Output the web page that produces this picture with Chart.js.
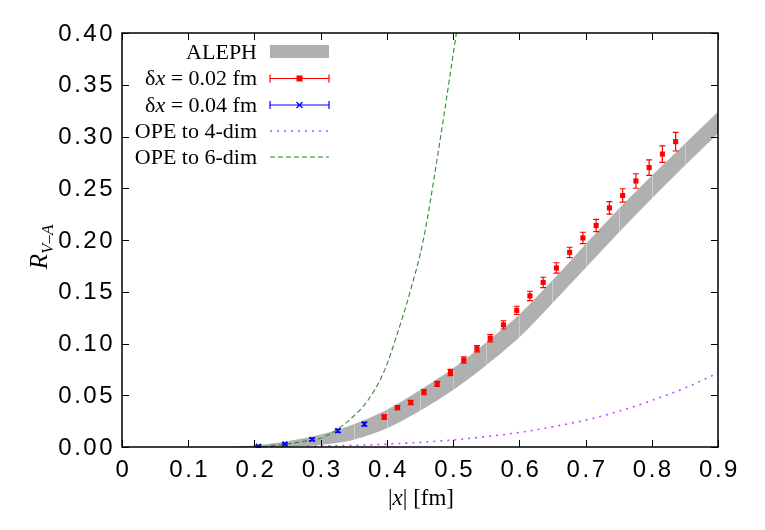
<!DOCTYPE html>
<html>
<head>
<meta charset="utf-8">
<script src="https://cdn.jsdelivr.net/npm/chart.js@4.4.1/dist/chart.umd.min.js"></script>
<style>
  html, body { margin: 0; padding: 0; background: #fff; }
  #wrap { width: 765px; height: 530px; }
</style>
</head>
<body>
<div id="wrap"><canvas id="rva" width="765" height="530"></canvas></div>
<script>
// axis ticks
const xTicks = [0, 0.1, 0.2, 0.3, 0.4, 0.5, 0.6, 0.7, 0.8, 0.9];
const xTickLabels = ['0', '0.1', '0.2', '0.3', '0.4', '0.5', '0.6', '0.7', '0.8', '0.9'];
const yTicks = [0, 0.05, 0.1, 0.15, 0.2, 0.25, 0.3, 0.35, 0.4];
const yTickLabels = ['0.00', '0.05', '0.10', '0.15', '0.20', '0.25', '0.30', '0.35', '0.40'];

// ALEPH band (upper / lower edge)
const alephX     = [0.15, 0.2, 0.25, 0.3, 0.35, 0.4, 0.45, 0.5, 0.55, 0.6, 0.65, 0.7, 0.75, 0.8, 0.85, 0.9];
const alephUpper = [0.0, 0.0015, 0.0055, 0.012, 0.022, 0.036, 0.055, 0.076, 0.101, 0.128, 0.161, 0.196, 0.230, 0.262, 0.293, 0.324];
const alephLower = [0.0, 0.0, 0.0003, 0.002, 0.007, 0.018, 0.035, 0.055, 0.079, 0.106, 0.139, 0.173, 0.207, 0.240, 0.272, 0.303];

// lattice, dx = 0.02 fm
const lat02X   = [0.396, 0.416, 0.436, 0.456, 0.476, 0.496, 0.516, 0.536, 0.556, 0.576, 0.596, 0.616,
                  0.636, 0.656, 0.676, 0.696, 0.716, 0.736, 0.756, 0.776, 0.796, 0.816, 0.836];
const lat02Y   = [0.029, 0.038, 0.043, 0.053, 0.061, 0.072, 0.084, 0.095, 0.105, 0.118, 0.132, 0.146,
                  0.159, 0.173, 0.188, 0.202, 0.214, 0.231, 0.243, 0.257, 0.270, 0.283, 0.295];
const lat02Err = [0.002, 0.002, 0.002, 0.0025, 0.0025, 0.003, 0.003, 0.003, 0.0035, 0.004, 0.004, 0.0045,
                  0.005, 0.005, 0.005, 0.0055, 0.006, 0.006, 0.0065, 0.007, 0.0075, 0.008, 0.009];

// lattice, dx = 0.04 fm
const lat04X   = [0.206, 0.246, 0.287, 0.326, 0.366];
const lat04Y   = [0.0006, 0.0028, 0.0073, 0.0157, 0.0221];
const lat04Err = [0.001, 0.001, 0.0012, 0.0015, 0.0018];

// OPE curves
const ope4X = [0.28, 0.3, 0.35, 0.4, 0.45, 0.5, 0.55, 0.6, 0.65, 0.7, 0.75, 0.8, 0.85, 0.9];
const ope4Y = [0.0007, 0.0009, 0.0016, 0.0028, 0.0045, 0.0068, 0.010, 0.014, 0.0195, 0.026, 0.0345, 0.045, 0.057, 0.0715];
const ope6X = [0.2, 0.22, 0.25, 0.275, 0.3, 0.325, 0.345, 0.37, 0.395, 0.415, 0.435, 0.455, 0.48, 0.505, 0.515];
const ope6Y = [0.0, 0.0008, 0.003, 0.0055, 0.0085, 0.017, 0.027, 0.044, 0.072, 0.108, 0.150, 0.200, 0.295, 0.400, 0.440];

const legendRows = [
  { parts: [['ALEPH', false]], kind: 'band' },
  { parts: [['δ', false], ['x', true], [' = 0.02 fm', false]], kind: 'red' },
  { parts: [['δ', false], ['x', true], [' = 0.04 fm', false]], kind: 'blue' },
  { parts: [['OPE to 4-dim', false]], kind: 'ope4' },
  { parts: [['OPE to 6-dim', false]], kind: 'ope6' }
];

const BAND = '#b0b0b0';
const RED = '#ff0000';
const BLUE = '#0000ff';
const VIOLET = '#c34cff';
const GREEN = '#2f8a2f';
const SERIF = '"Liberation Serif", "Times New Roman", serif';
const SANS = '"Liberation Sans", Arial, sans-serif';

const pts = (xs, ys) => xs.map((x, i) => ({ x: x, y: ys[i] }));

// draw text made of upright / italic pieces
function richText(ctx, parts, x, y, size, align) {
  let w = 0;
  parts.forEach(p => { ctx.font = (p[1] ? 'italic ' : '') + size + 'px ' + SERIF; w += ctx.measureText(p[0]).width; });
  let cx = align === 'right' ? x - w : (align === 'center' ? x - w / 2 : x);
  ctx.textAlign = 'left';
  parts.forEach(p => {
    ctx.font = (p[1] ? 'italic ' : '') + size + 'px ' + SERIF;
    ctx.fillText(p[0], cx, y);
    cx += ctx.measureText(p[0]).width;
  });
}

// faint white seams across the ALEPH band, like the original fill
const bandSeams = {
  id: 'bandSeams',
  beforeDatasetDraw(chart, args) {
    if (args.index !== 1) return;
    const ctx = chart.ctx, xs = chart.scales.x, ys = chart.scales.y;
    ctx.save();
    ctx.strokeStyle = 'rgba(255,255,255,0.35)';
    ctx.lineWidth = 1;
    ctx.beginPath();
    alephX.forEach((x, i) => {
      if (i === 0 || i === alephX.length - 1) return;
      const px = Math.round(xs.getPixelForValue(x)) + 0.5;
      ctx.moveTo(px, ys.getPixelForValue(alephUpper[i]));
      ctx.lineTo(px, ys.getPixelForValue(alephLower[i]));
    });
    ctx.stroke();
    ctx.restore();
  }
};

// error bars for the lattice points
const errorBars = {
  id: 'errorBars',
  afterDatasetsDraw(chart) {
    const ctx = chart.ctx, xs = chart.scales.x, ys = chart.scales.y;
    const sets = [[lat02X, lat02Y, lat02Err, RED], [lat04X, lat04Y, lat04Err, BLUE]];
    ctx.save();
    ctx.lineWidth = 1.2;
    sets.forEach(s => {
      ctx.strokeStyle = s[3];
      s[0].forEach((x, i) => {
        const px = xs.getPixelForValue(x);
        const top = ys.getPixelForValue(s[1][i] + s[2][i]);
        const bot = ys.getPixelForValue(s[1][i] - s[2][i]);
        ctx.beginPath();
        ctx.moveTo(px, top); ctx.lineTo(px, bot);
        ctx.moveTo(px - 3, top); ctx.lineTo(px + 3, top);
        ctx.moveTo(px - 3, bot); ctx.lineTo(px + 3, bot);
        ctx.stroke();
      });
    });
    ctx.restore();
  }
};

// gnuplot-like frame, inward ticks, labels, titles and key
const frame = {
  id: 'frame',
  afterDraw(chart) {
    const ctx = chart.ctx, a = chart.chartArea, xs = chart.scales.x, ys = chart.scales.y;
    ctx.save();
    ctx.strokeStyle = '#000';
    ctx.lineWidth = 1.5;
    ctx.strokeRect(a.left, a.top, a.right - a.left, a.bottom - a.top);
    ctx.lineWidth = 1;
    ctx.beginPath();
    xTicks.forEach(v => {
      const p = Math.round(xs.getPixelForValue(v)) + 0.5;
      ctx.moveTo(p, a.bottom); ctx.lineTo(p, a.bottom - 7);
      ctx.moveTo(p, a.top); ctx.lineTo(p, a.top + 7);
    });
    yTicks.forEach(v => {
      const p = Math.round(ys.getPixelForValue(v)) + 0.5;
      ctx.moveTo(a.left, p); ctx.lineTo(a.left + 7, p);
      ctx.moveTo(a.right, p); ctx.lineTo(a.right - 7, p);
    });
    ctx.stroke();

    ctx.fillStyle = '#000';
    ctx.font = '24px ' + SANS;
    ctx.letterSpacing = '2.5px';
    ctx.textBaseline = 'middle';
    ctx.textAlign = 'center';
    xTicks.forEach((v, i) => ctx.fillText(xTickLabels[i], xs.getPixelForValue(v) + 1.5, a.bottom + 23));
    ctx.textAlign = 'right';
    yTicks.forEach((v, i) => ctx.fillText(yTickLabels[i], a.left - 7, ys.getPixelForValue(v) + 1));
    ctx.letterSpacing = '0px';

    // axis titles
    ctx.textBaseline = 'alphabetic';
    richText(ctx, [['|', false], ['x', true], ['| [fm]', false]], 421, 505, 23, 'center');
    ctx.save();
    ctx.translate(47, 247);
    ctx.rotate(-Math.PI / 2);
    ctx.font = 'italic 25px ' + SERIF;
    const rw = ctx.measureText('R').width;
    ctx.font = 'italic 17px ' + SERIF;
    const sw = ctx.measureText('V–A').width;
    const sx = -(rw + sw) / 2;
    ctx.font = 'italic 25px ' + SERIF;
    ctx.textAlign = 'left';
    ctx.fillText('R', sx, 0);
    ctx.font = 'italic 17px ' + SERIF;
    ctx.fillText('V–A', sx + rw, 6);
    ctx.restore();

    // key
    const rowY = [52, 78.5, 105, 131, 157];
    const s0 = 270, s1 = 329, sm = (s0 + s1) / 2;
    ctx.textBaseline = 'middle';
    legendRows.forEach((r, i) => {
      const y = rowY[i];
      ctx.fillStyle = '#000';
      richText(ctx, r.parts, 257, y + 1, 22, 'right');
      ctx.lineWidth = 1.2;
      if (r.kind === 'band') {
        ctx.fillStyle = BAND;
        ctx.fillRect(s0, y - 7, s1 - s0, 13);
      } else if (r.kind === 'red' || r.kind === 'blue') {
        const c = r.kind === 'red' ? RED : BLUE;
        ctx.strokeStyle = c;
        ctx.beginPath();
        ctx.moveTo(s0, y); ctx.lineTo(s1, y);
        ctx.moveTo(s0, y - 4); ctx.lineTo(s0, y + 4);
        ctx.moveTo(s1, y - 4); ctx.lineTo(s1, y + 4);
        if (r.kind === 'blue') {
          ctx.moveTo(sm - 3, y - 3); ctx.lineTo(sm + 3, y + 3);
          ctx.moveTo(sm - 3, y + 3); ctx.lineTo(sm + 3, y - 3);
        }
        ctx.stroke();
        if (r.kind === 'red') { ctx.fillStyle = RED; ctx.fillRect(sm - 3, y - 3, 6, 6); }
      } else {
        ctx.strokeStyle = r.kind === 'ope4' ? VIOLET : GREEN;
        ctx.setLineDash(r.kind === 'ope4' ? [2, 5] : [5, 3]);
        ctx.lineWidth = r.kind === 'ope4' ? 1.6 : 1.1;
        ctx.beginPath();
        ctx.moveTo(s0, y); ctx.lineTo(s1, y);
        ctx.stroke();
        ctx.setLineDash([]);
      }
    });
    ctx.restore();
  }
};

new Chart(document.getElementById('rva'), {
  type: 'scatter',
  data: {
    datasets: [
      { label: 'ALEPH', data: pts(alephX, alephUpper), showLine: true, borderWidth: 0, pointRadius: 0,
        borderColor: BAND, backgroundColor: BAND, fill: '+1', tension: 0.3, order: 6 },
      { label: 'ALEPH low', data: pts(alephX, alephLower), showLine: true, borderWidth: 0, pointRadius: 0,
        borderColor: BAND, fill: false, tension: 0.3, order: 5 },
      { label: 'OPE to 4-dim', data: pts(ope4X, ope4Y), showLine: true, borderColor: VIOLET, borderWidth: 1.6,
        borderDash: [2, 5], pointRadius: 0, cubicInterpolationMode: 'monotone', order: 4 },
      { label: 'OPE to 6-dim', data: pts(ope6X, ope6Y), showLine: true, borderColor: GREEN, borderWidth: 1.1,
        borderDash: [5, 3], pointRadius: 0, cubicInterpolationMode: 'monotone', order: 3 },
      { label: 'dx = 0.04 fm', data: pts(lat04X, lat04Y), pointStyle: 'crossRot', pointRadius: 3.5,
        borderColor: BLUE, borderWidth: 1.5, order: 2 },
      { label: 'dx = 0.02 fm', data: pts(lat02X, lat02Y), pointStyle: 'rect', pointRadius: 3.6,
        backgroundColor: RED, borderColor: RED, borderWidth: 0, order: 1 }
    ]
  },
  options: {
    responsive: false,
    animation: false,
    layout: { padding: { left: 122, right: 47, top: 33, bottom: 83 } },
    plugins: { legend: { display: false }, tooltip: { enabled: false } },
    scales: {
      x: { type: 'linear', min: 0, max: 0.9, display: false },
      y: { type: 'linear', min: 0, max: 0.4, display: false }
    }
  },
  plugins: [bandSeams, errorBars, frame]
});
</script>
</body>
</html>
